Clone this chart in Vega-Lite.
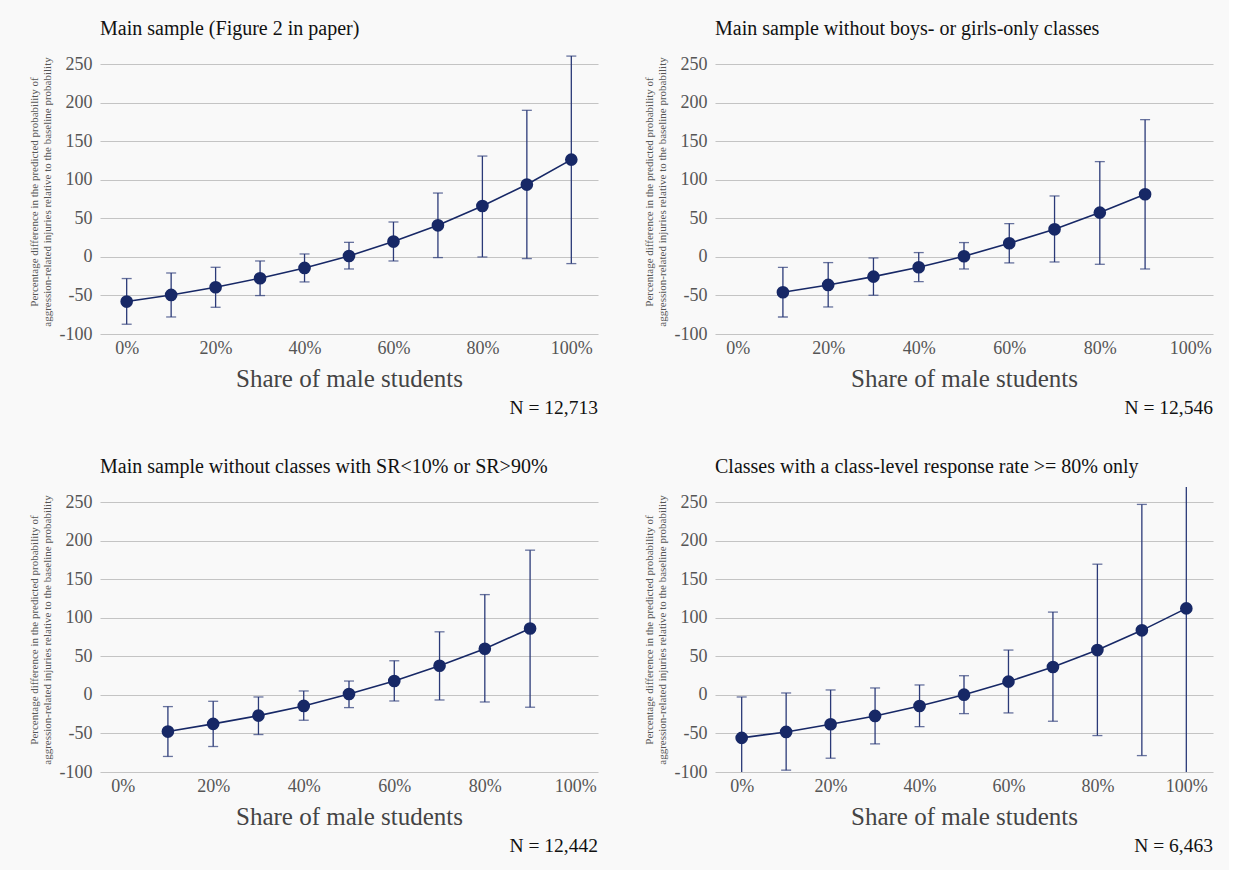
{
  "$schema": "https://vega.github.io/schema/vega-lite/v6.json",
  "background": "#f9f9f9",
  "padding": {"left": 28, "top": 19, "right": 16, "bottom": 14},
  "config": {
    "view": {"stroke": null},
    "font": "Liberation Serif",
    "axis": {"labelFont": "Liberation Serif", "titleFont": "Liberation Serif", "labelColor": "#555555", "titleColor": "#444444", "titleFontWeight": "normal"},
    "title": {"font": "Liberation Serif", "fontWeight": "normal", "color": "#111111"}
  },
  "datasets": {
    "p1": [
      {"x": 0, "y": -57.9, "lo": -87.3, "hi": -28.0},
      {"x": 10, "y": -49.3, "lo": -77.9, "hi": -20.8},
      {"x": 20, "y": -39.3, "lo": -65.3, "hi": -13.4},
      {"x": 30, "y": -27.6, "lo": -50.1, "hi": -5.2},
      {"x": 40, "y": -14.2, "lo": -32.4, "hi": 3.9},
      {"x": 50, "y": 1.3, "lo": -15.6, "hi": 19.0},
      {"x": 60, "y": 20.0, "lo": -5.2, "hi": 45.4},
      {"x": 70, "y": 41.1, "lo": -0.8, "hi": 83.0},
      {"x": 80, "y": 66.2, "lo": 0.0, "hi": 131.0},
      {"x": 90, "y": 94.0, "lo": -2.1, "hi": 190.4},
      {"x": 100, "y": 126.4, "lo": -8.6, "hi": 260.8}
    ],
    "p2": [
      {"x": 10, "y": -45.8, "lo": -77.9, "hi": -13.4},
      {"x": 20, "y": -36.3, "lo": -64.9, "hi": -7.3},
      {"x": 30, "y": -25.5, "lo": -49.7, "hi": -1.3},
      {"x": 40, "y": -13.4, "lo": -32.0, "hi": 5.7},
      {"x": 50, "y": 0.9, "lo": -15.6, "hi": 18.7},
      {"x": 60, "y": 17.8, "lo": -7.7, "hi": 43.3},
      {"x": 70, "y": 35.9, "lo": -6.5, "hi": 79.2},
      {"x": 80, "y": 57.6, "lo": -9.5, "hi": 123.8},
      {"x": 90, "y": 81.4, "lo": -15.6, "hi": 178.3}
    ],
    "p3": [
      {"x": 10, "y": -47.5, "lo": -79.8, "hi": -15.1},
      {"x": 20, "y": -37.5, "lo": -66.9, "hi": -8.2},
      {"x": 30, "y": -26.8, "lo": -51.4, "hi": -2.6},
      {"x": 40, "y": -14.2, "lo": -32.8, "hi": 5.2},
      {"x": 50, "y": 1.3, "lo": -16.4, "hi": 18.1},
      {"x": 60, "y": 18.1, "lo": -7.8, "hi": 44.4},
      {"x": 70, "y": 38.0, "lo": -6.5, "hi": 82.0},
      {"x": 80, "y": 60.0, "lo": -9.1, "hi": 130.3},
      {"x": 90, "y": 86.3, "lo": -15.9, "hi": 188.0}
    ],
    "p4": [
      {"x": 0, "y": -55.7, "lo": -115.0, "hi": -2.6},
      {"x": 10, "y": -48.0, "lo": -97.6, "hi": 2.6},
      {"x": 20, "y": -38.0, "lo": -82.1, "hi": 6.5},
      {"x": 30, "y": -27.2, "lo": -63.5, "hi": 9.1},
      {"x": 40, "y": -14.3, "lo": -41.1, "hi": 13.0},
      {"x": 50, "y": 0.4, "lo": -24.2, "hi": 25.0},
      {"x": 60, "y": 17.3, "lo": -23.3, "hi": 58.3},
      {"x": 70, "y": 36.3, "lo": -34.1, "hi": 107.6},
      {"x": 80, "y": 58.3, "lo": -52.7, "hi": 169.8},
      {"x": 90, "y": 83.9, "lo": -78.7, "hi": 247.4},
      {"x": 100, "y": 112.4, "lo": -115.0, "hi": 330.0}
    ]
  },
  "spacing": 39,
  "vconcat": [
    {
      "spacing": 45,
      "hconcat": [
        {
          "title": {"text": "N = 12,713", "orient": "bottom", "anchor": "end", "fontSize": 19.5, "offset": 8},
          "vconcat": [
            {
              "width": 498, "height": 285,
              "title": {"text": "Main sample (Figure 2 in paper)", "anchor": "start", "frame": "group", "fontSize": 20, "offset": 10},
              "data": {"name": "p1"},
              "encoding": {
                "x": {"field": "x", "type": "quantitative", "scale": {"domain": [-6, 106], "nice": false, "zero": false},
                  "axis": {"values": [0, 20, 40, 60, 80, 100], "labelExpr": "datum.value + '%'", "title": "Share of male students", "grid": false, "ticks": false, "domain": false, "labelFontSize": 18, "labelPadding": 5, "titleFontSize": 25, "titlePadding": 9}}
              },
              "layer": [
                {"mark": {"type": "rule", "color": "#2b3a78", "strokeWidth": 1.3, "clip": true},
                  "encoding": {"y": {"field": "lo", "type": "quantitative", "scale": {"domain": [-100, 270], "nice": false, "zero": false},
                    "axis": {"values": [-100, -50, 0, 50, 100, 150, 200, 250], "labelExpr": "'' + datum.value", "title": ["Percentage difference in the predicted probability of", "aggression-related injuries relative to the baseline probability"], "titleFontSize": 11, "titleColor": "#555555", "titlePadding": 7, "labelFontSize": 18, "labelPadding": 8, "ticks": false, "domain": false, "grid": true, "gridColor": "#c4c4c4", "gridWidth": 1.2}},
                    "y2": {"field": "hi"}}},
                {"mark": {"type": "tick", "orient": "horizontal", "size": 10, "thickness": 1.3, "color": "#2b3a78", "clip": true},
                  "encoding": {"y": {"field": "lo", "type": "quantitative"}}},
                {"mark": {"type": "tick", "orient": "horizontal", "size": 10, "thickness": 1.3, "color": "#2b3a78", "clip": true},
                  "encoding": {"y": {"field": "hi", "type": "quantitative"}}},
                {"mark": {"type": "line", "color": "#172866", "strokeWidth": 1.6},
                  "encoding": {"y": {"field": "y", "type": "quantitative"}}},
                {"mark": {"type": "circle", "color": "#172866", "opacity": 1, "size": 160},
                  "encoding": {"y": {"field": "y", "type": "quantitative"}}}
              ]
            }
          ]
        },
        {
          "title": {"text": "N = 12,546", "orient": "bottom", "anchor": "end", "fontSize": 19.5, "offset": 8},
          "vconcat": [
            {
              "width": 498, "height": 285,
              "title": {"text": "Main sample without boys- or girls-only classes", "anchor": "start", "frame": "group", "fontSize": 20, "offset": 10},
              "data": {"name": "p2"},
              "encoding": {
                "x": {"field": "x", "type": "quantitative", "scale": {"domain": [-5, 105], "nice": false, "zero": false},
                  "axis": {"values": [0, 20, 40, 60, 80, 100], "labelExpr": "datum.value + '%'", "title": "Share of male students", "grid": false, "ticks": false, "domain": false, "labelFontSize": 18, "labelPadding": 5, "titleFontSize": 25, "titlePadding": 9}}
              },
              "layer": [
                {"mark": {"type": "rule", "color": "#2b3a78", "strokeWidth": 1.3, "clip": true},
                  "encoding": {"y": {"field": "lo", "type": "quantitative", "scale": {"domain": [-100, 270], "nice": false, "zero": false},
                    "axis": {"values": [-100, -50, 0, 50, 100, 150, 200, 250], "labelExpr": "'' + datum.value", "title": ["Percentage difference in the predicted probability of", "aggression-related injuries relative to the baseline probability"], "titleFontSize": 11, "titleColor": "#555555", "titlePadding": 7, "labelFontSize": 18, "labelPadding": 8, "ticks": false, "domain": false, "grid": true, "gridColor": "#c4c4c4", "gridWidth": 1.2}},
                    "y2": {"field": "hi"}}},
                {"mark": {"type": "tick", "orient": "horizontal", "size": 10, "thickness": 1.3, "color": "#2b3a78", "clip": true},
                  "encoding": {"y": {"field": "lo", "type": "quantitative"}}},
                {"mark": {"type": "tick", "orient": "horizontal", "size": 10, "thickness": 1.3, "color": "#2b3a78", "clip": true},
                  "encoding": {"y": {"field": "hi", "type": "quantitative"}}},
                {"mark": {"type": "line", "color": "#172866", "strokeWidth": 1.6},
                  "encoding": {"y": {"field": "y", "type": "quantitative"}}},
                {"mark": {"type": "circle", "color": "#172866", "opacity": 1, "size": 160},
                  "encoding": {"y": {"field": "y", "type": "quantitative"}}}
              ]
            }
          ]
        }
      ]
    },
    {
      "spacing": 45,
      "hconcat": [
        {
          "title": {"text": "N = 12,442", "orient": "bottom", "anchor": "end", "fontSize": 19.5, "offset": 8},
          "vconcat": [
            {
              "width": 498, "height": 285,
              "title": {"text": "Main sample without classes with SR<10% or SR>90%", "anchor": "start", "frame": "group", "fontSize": 20, "offset": 10},
              "data": {"name": "p3"},
              "encoding": {
                "x": {"field": "x", "type": "quantitative", "scale": {"domain": [-5, 105], "nice": false, "zero": false},
                  "axis": {"values": [0, 20, 40, 60, 80, 100], "labelExpr": "datum.value + '%'", "title": "Share of male students", "grid": false, "ticks": false, "domain": false, "labelFontSize": 18, "labelPadding": 5, "titleFontSize": 25, "titlePadding": 9}}
              },
              "layer": [
                {"mark": {"type": "rule", "color": "#2b3a78", "strokeWidth": 1.3, "clip": true},
                  "encoding": {"y": {"field": "lo", "type": "quantitative", "scale": {"domain": [-100, 270], "nice": false, "zero": false},
                    "axis": {"values": [-100, -50, 0, 50, 100, 150, 200, 250], "labelExpr": "'' + datum.value", "title": ["Percentage difference in the predicted probability of", "aggression-related injuries relative to the baseline probability"], "titleFontSize": 11, "titleColor": "#555555", "titlePadding": 7, "labelFontSize": 18, "labelPadding": 8, "ticks": false, "domain": false, "grid": true, "gridColor": "#c4c4c4", "gridWidth": 1.2}},
                    "y2": {"field": "hi"}}},
                {"mark": {"type": "tick", "orient": "horizontal", "size": 10, "thickness": 1.3, "color": "#2b3a78", "clip": true},
                  "encoding": {"y": {"field": "lo", "type": "quantitative"}}},
                {"mark": {"type": "tick", "orient": "horizontal", "size": 10, "thickness": 1.3, "color": "#2b3a78", "clip": true},
                  "encoding": {"y": {"field": "hi", "type": "quantitative"}}},
                {"mark": {"type": "line", "color": "#172866", "strokeWidth": 1.6},
                  "encoding": {"y": {"field": "y", "type": "quantitative"}}},
                {"mark": {"type": "circle", "color": "#172866", "opacity": 1, "size": 160},
                  "encoding": {"y": {"field": "y", "type": "quantitative"}}}
              ]
            }
          ]
        },
        {
          "title": {"text": "N = 6,463", "orient": "bottom", "anchor": "end", "fontSize": 19.5, "offset": 8},
          "vconcat": [
            {
              "width": 498, "height": 285,
              "title": {"text": "Classes with a class-level response rate >= 80% only", "anchor": "start", "frame": "group", "fontSize": 20, "offset": 10},
              "data": {"name": "p4"},
              "encoding": {
                "x": {"field": "x", "type": "quantitative", "scale": {"domain": [-6, 106], "nice": false, "zero": false},
                  "axis": {"values": [0, 20, 40, 60, 80, 100], "labelExpr": "datum.value + '%'", "title": "Share of male students", "grid": false, "ticks": false, "domain": false, "labelFontSize": 18, "labelPadding": 5, "titleFontSize": 25, "titlePadding": 9}}
              },
              "layer": [
                {"mark": {"type": "rule", "color": "#2b3a78", "strokeWidth": 1.3, "clip": true},
                  "encoding": {"y": {"field": "lo", "type": "quantitative", "scale": {"domain": [-100, 270], "nice": false, "zero": false},
                    "axis": {"values": [-100, -50, 0, 50, 100, 150, 200, 250], "labelExpr": "'' + datum.value", "title": ["Percentage difference in the predicted probability of", "aggression-related injuries relative to the baseline probability"], "titleFontSize": 11, "titleColor": "#555555", "titlePadding": 7, "labelFontSize": 18, "labelPadding": 8, "ticks": false, "domain": false, "grid": true, "gridColor": "#c4c4c4", "gridWidth": 1.2}},
                    "y2": {"field": "hi"}}},
                {"mark": {"type": "tick", "orient": "horizontal", "size": 10, "thickness": 1.3, "color": "#2b3a78", "clip": true},
                  "encoding": {"y": {"field": "lo", "type": "quantitative"}}},
                {"mark": {"type": "tick", "orient": "horizontal", "size": 10, "thickness": 1.3, "color": "#2b3a78", "clip": true},
                  "encoding": {"y": {"field": "hi", "type": "quantitative"}}},
                {"mark": {"type": "line", "color": "#172866", "strokeWidth": 1.6},
                  "encoding": {"y": {"field": "y", "type": "quantitative"}}},
                {"mark": {"type": "circle", "color": "#172866", "opacity": 1, "size": 160},
                  "encoding": {"y": {"field": "y", "type": "quantitative"}}}
              ]
            }
          ]
        }
      ]
    }
  ]
}
